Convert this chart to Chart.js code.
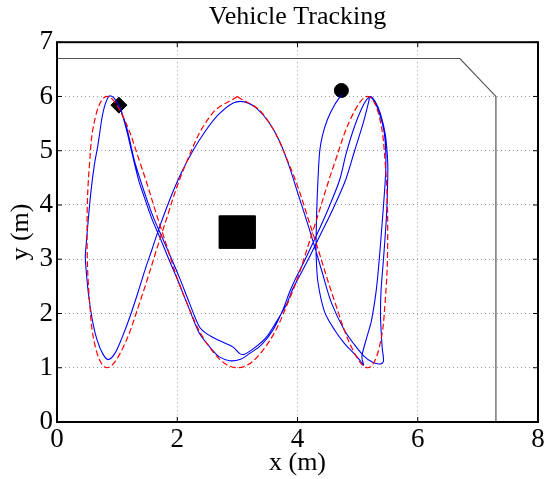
<!DOCTYPE html>
<html>
<head>
<meta charset="utf-8">
<script src="https://cdn.jsdelivr.net/npm/chart.js@4"></script>
<style>
  html, body { margin: 0; padding: 0; background: #fff; }
  #wrap { width: 557px; height: 479px; }
</style>
</head>
<body>
<div id="wrap"><canvas id="trackChart" width="557" height="479"></canvas></div>
<script>
// axis ticks
const xTicks = [0, 2, 4, 6, 8];
const yTicks = [0, 1, 2, 3, 4, 5, 6, 7];

// reference path (red dashed)
const refX = [3.00, 3.43, 3.86, 4.25, 4.61, 4.92, 5.17, 5.35, 5.46, 5.50, 5.46, 5.35, 5.17,
              4.92, 4.61, 4.25, 3.86, 3.43, 3.00, 2.57, 2.14, 1.75, 1.39, 1.08, 0.83,
              0.65, 0.54, 0.50, 0.54, 0.65, 0.83, 1.08, 1.39, 1.75, 2.14, 2.57, 3.00];
const refY = [6.00, 5.67, 4.75, 3.50, 2.25, 1.33, 1.00, 1.33, 2.25, 3.50, 4.75, 5.67, 6.00,
              5.67, 4.75, 3.50, 2.25, 1.33, 1.00, 1.33, 2.25, 3.50, 4.75, 5.67, 6.00,
              5.67, 4.75, 3.50, 2.25, 1.33, 1.00, 1.33, 2.25, 3.50, 4.75, 5.67, 6.00];

// measured vehicle path (blue)
const trackX = [4.73, 4.62, 4.50, 4.42, 4.37, 4.34, 4.32, 4.31, 4.31, 4.34, 4.45, 4.62, 4.78, 4.95, 5.05, 5.10,
                5.07, 5.15, 5.23, 5.31, 5.36, 5.41, 5.46, 5.47, 5.44, 5.36, 5.27, 5.20,
                5.10, 4.95, 4.81, 4.70, 4.52, 4.32, 4.12, 3.95, 3.87, 3.75, 3.59, 3.40, 3.20, 3.04, 2.87, 2.70, 2.59, 2.37,
                2.20, 2.02, 1.86, 1.72, 1.58, 1.45, 1.36, 1.27, 1.15, 1.05, 0.95, 0.87,
                0.80, 0.75, 0.72, 0.68, 0.62, 0.56, 0.51, 0.48, 0.47, 0.49, 0.53, 0.60, 0.67, 0.76, 0.85, 0.96, 1.08, 1.21, 1.35, 1.48, 1.58, 1.66,
                1.78, 1.92, 2.08, 2.26, 2.46, 2.68, 2.93, 3.12, 3.32, 3.52, 3.70, 3.86, 4.01, 4.15, 4.28, 4.41, 4.56, 4.78, 4.95, 5.10, 5.25, 5.38, 5.43,
                5.41, 5.39, 5.38, 5.39, 5.43, 5.48, 5.50, 5.50, 5.46, 5.38, 5.29, 5.21,
                5.18, 5.09, 4.95, 4.80, 4.60, 4.38, 4.18, 4.00, 3.92, 3.81, 3.65, 3.48, 3.30, 3.12, 3.04, 2.93, 2.70, 2.50, 2.37,
                2.20, 2.03, 1.88, 1.75, 1.60, 1.47, 1.36, 1.28, 1.17, 1.08, 1.03];
const trackY = [6.03, 5.85, 5.58, 5.30, 5.00, 4.45, 3.90, 3.40, 3.07, 2.58, 2.03, 1.69, 1.45, 1.25, 1.12, 1.05,
                1.20, 1.55, 1.87, 2.43, 3.00, 3.70, 4.46, 4.90, 5.35, 5.70, 5.92, 5.99,
                5.85, 5.45, 4.95, 4.46, 3.95, 3.45, 2.98, 2.60, 2.40, 2.05, 1.69, 1.42, 1.26, 1.15, 1.13, 1.20, 1.32, 1.63,
                2.08, 2.58, 3.00, 3.38, 3.74, 4.15, 4.45, 4.85, 5.41, 5.78, 5.97, 6.01,
                5.85, 5.62, 5.40, 5.10, 4.73, 4.20, 3.60, 3.20, 3.05, 2.73, 2.30, 1.81, 1.50, 1.26, 1.15, 1.26, 1.55, 1.93, 2.40, 2.86, 3.18, 3.45,
                3.82, 4.22, 4.62, 5.00, 5.35, 5.66, 5.88, 5.90, 5.78, 5.53, 5.18, 4.72, 4.20, 3.72, 3.25, 2.76, 2.21, 1.69, 1.42, 1.22, 1.10, 1.07, 1.12,
                1.35, 1.70, 2.00, 2.43, 3.00, 3.80, 4.46, 4.80, 5.30, 5.68, 5.91, 6.00,
                5.88, 5.50, 5.00, 4.46, 3.95, 3.45, 3.00, 2.62, 2.45, 2.15, 1.85, 1.56, 1.38, 1.25, 1.26, 1.38, 1.50, 1.62, 1.75,
                2.20, 2.68, 3.07, 3.40, 3.78, 4.18, 4.55, 4.85, 5.38, 5.70, 5.84];

// room boundary
const wallX = [0, 6.7, 7.3, 7.3];
const wallY = [6.7, 6.7, 6.0, 0];

// obstacle block
const blockX = [2.7, 3.3, 3.3, 2.7, 2.7];
const blockY = [3.2, 3.2, 3.8, 3.8, 3.2];

// start / end markers
const startX = [4.73];
const startY = [6.11];
const endX = [1.03];
const endY = [5.84];

function toPoints(xs, ys) {
    return xs.map((x, i) => ({ x: x, y: ys[i] }));
}

// box around the plot with inward tick marks
const frameBox = {
    id: 'frameBox',
    afterDatasetsDraw(chart) {
        const { ctx, chartArea: a, scales } = chart;
        ctx.save();
        ctx.strokeStyle = '#000';
        ctx.lineWidth = 1;
        xTicks.forEach(v => {
            const px = scales.x.getPixelForValue(v);
            ctx.beginPath();
            ctx.moveTo(px, a.bottom); ctx.lineTo(px, a.bottom - 5);
            ctx.moveTo(px, a.top); ctx.lineTo(px, a.top + 5);
            ctx.stroke();
        });
        yTicks.forEach(v => {
            const py = scales.y.getPixelForValue(v);
            ctx.beginPath();
            ctx.moveTo(a.left, py); ctx.lineTo(a.left + 5, py);
            ctx.moveTo(a.right, py); ctx.lineTo(a.right - 5, py);
            ctx.stroke();
        });
        ctx.lineWidth = 2;
        ctx.strokeRect(a.left, a.top, a.right - a.left, a.bottom - a.top);
        ctx.restore();
    }
};

Chart.defaults.font.family = "'Liberation Serif', 'DejaVu Serif', serif";
Chart.defaults.color = '#000';

new Chart(document.getElementById('trackChart'), {
    type: 'scatter',
    data: {
        datasets: [
            {
                label: 'boundary',
                data: toPoints(wallX, wallY),
                showLine: true,
                borderColor: '#555',
                borderWidth: 1.2,
                pointRadius: 0,
                tension: 0
            },
            {
                label: 'obstacle',
                data: toPoints(blockX, blockY),
                showLine: true,
                borderColor: '#000',
                backgroundColor: '#000',
                borderWidth: 1,
                pointRadius: 0,
                fill: 'shape',
                tension: 0
            },
            {
                label: 'reference',
                data: toPoints(refX, refY),
                showLine: true,
                borderColor: '#ff0000',
                borderWidth: 1.2,
                borderDash: [6, 3],
                pointRadius: 0,
                tension: 0.4
            },
            {
                label: 'vehicle',
                data: toPoints(trackX, trackY),
                showLine: true,
                borderColor: '#0000ff',
                borderWidth: 1.1,
                pointRadius: 0,
                tension: 0.3
            },
            {
                label: 'start',
                data: toPoints(startX, startY),
                pointStyle: 'circle',
                pointRadius: 7,
                backgroundColor: '#000',
                borderColor: '#000'
            },
            {
                label: 'end',
                data: toPoints(endX, endY),
                pointStyle: 'rectRot',
                pointRadius: 8,
                backgroundColor: '#000',
                borderColor: '#000'
            }
        ]
    },
    options: {
        responsive: false,
        animation: false,
        layout: { padding: { left: 0, right: 19, top: 0, bottom: 0 } },
        plugins: {
            legend: { display: false },
            tooltip: { enabled: false },
            title: {
                display: true,
                fullSize: false,
                text: 'Vehicle Tracking',
                font: { size: 26, weight: 'normal' },
                color: '#000',
                padding: { top: 2, bottom: 9 }
            }
        },
        scales: {
            x: {
                type: 'linear',
                min: 0,
                max: 8,
                afterFit: scale => { scale.height = 57; },
                afterBuildTicks: scale => { scale.ticks = xTicks.map(v => ({ value: v })); },
                ticks: { font: { size: 27 }, color: '#000', padding: 2, maxRotation: 0 },
                grid: { color: '#9a9a9a', lineWidth: 1, drawTicks: false },
                border: { display: false, dash: [1, 3] },
                title: { display: true, text: 'x (m)', font: { size: 26 }, color: '#000', padding: { top: 0, bottom: 0 } }
            },
            y: {
                type: 'linear',
                min: 0,
                max: 7,
                afterFit: scale => { scale.width = 57; },
                afterBuildTicks: scale => { scale.ticks = yTicks.map(v => ({ value: v })); },
                ticks: { font: { size: 27 }, color: '#000', padding: 4 },
                grid: { color: '#9a9a9a', lineWidth: 1, drawTicks: false },
                border: { display: false, dash: [1, 3] },
                title: { display: true, text: 'y (m)', font: { size: 26 }, color: '#000', padding: { top: 6, bottom: 0 } }
            }
        }
    },
    plugins: [frameBox]
});
</script>
</body>
</html>
